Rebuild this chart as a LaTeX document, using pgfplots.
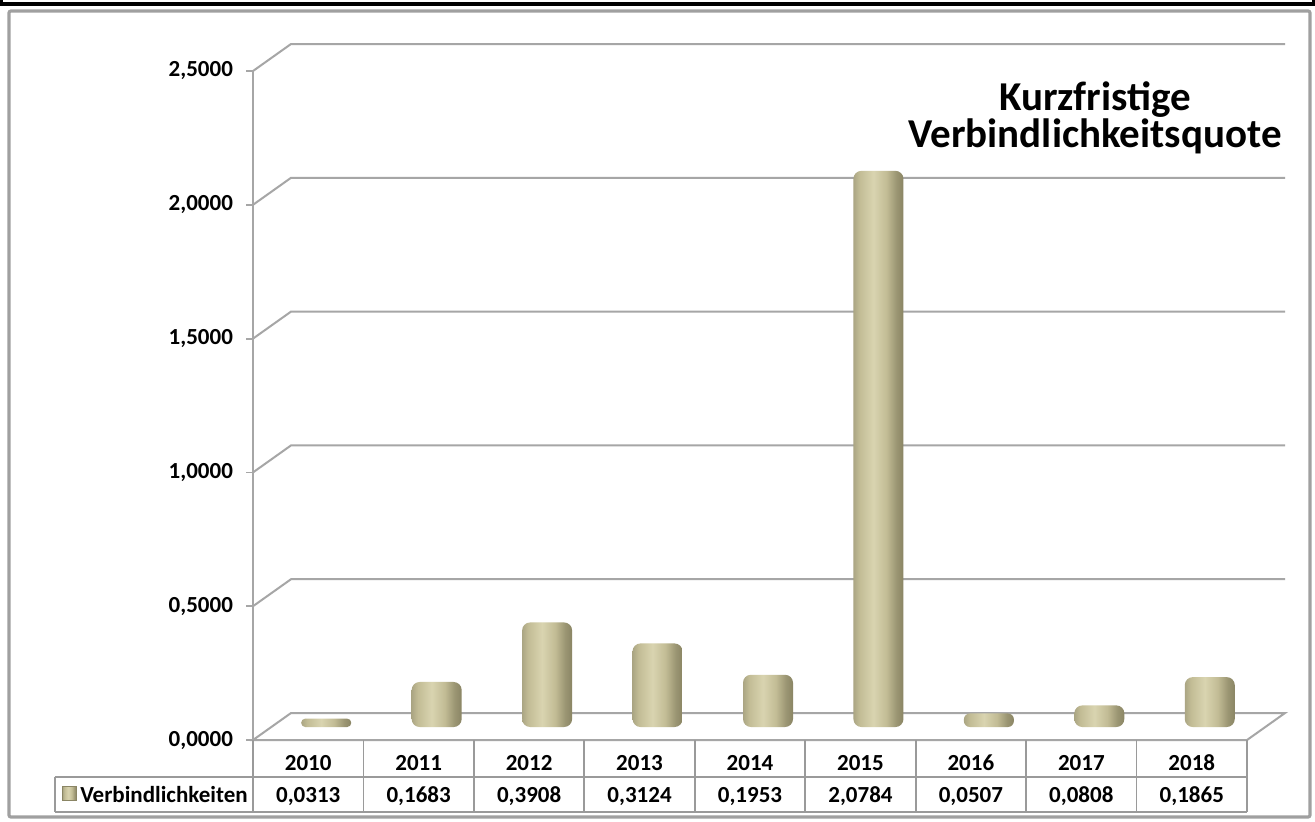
\documentclass[border=0pt]{standalone}
\usepackage{fontspec}
\setmainfont{Carlito}
\usepackage{pgfplots}
\pgfplotsset{compat=1.18}
\definecolor{gridc}{HTML}{A6A6A6}
\definecolor{barL}{HTML}{C2BC95}
\definecolor{barM}{HTML}{D9D4B0}
\definecolor{barR}{HTML}{8A8564}
\definecolor{tabc}{HTML}{9A9A9A}
\definecolor{framec}{HTML}{A0A0A0}
\pgfdeclarehorizontalshading{barshade}{100bp}{color(0bp)=(barL!88!black); color(25bp)=(barL!88!black); color(31bp)=(barL); color(45bp)=(barM); color(58bp)=(barL); color(68bp)=(barR!70!barL); color(75bp)=(barR); color(100bp)=(barR)}
\pgfplotsset{kbar/.style={ybar, bar width=25pt, draw=none, shading=barshade,
  rounded corners=4pt, xshift=9pt, yshift=6.5pt, forget plot}}
\begin{document}
\begin{tikzpicture}
\useasboundingbox (0,0) rectangle (657.5pt,-410.5pt);
\fill[white] (0,0) rectangle (657.5pt,-410.5pt);
% outer black frame (top)
\draw[black, line width=1.6pt] (0.8pt,0pt) -- (0.8pt,-2pt) -- (656.7pt,-2pt) -- (656.7pt,0pt);
% chart area frame
\draw[framec, line width=1.6pt, rounded corners=1pt] (4.5pt,-5.5pt) rectangle (655pt,-408.5pt);
\begin{axis}[
  at={(126.5pt,-370pt)}, anchor=south west,
  scale only axis, width=497pt, height=334.5pt,
  xmin=0, xmax=9, ymin=0, ymax=2.5,
  clip=false,
  axis line style={draw=none},
  xtick=\empty,
  ytick={0,0.5,1,1.5,2,2.5},
  ytick pos=left, tick align=outside,
  major tick length=3.5pt,
  tick style={gridc, line width=0.9pt},
  yticklabel style={font=\bfseries\fontsize{11.5}{13}\selectfont, text=black, xshift=-3pt},
  /pgf/number format/.cd, fixed, fixed zerofill, precision=4, use comma, assume math mode=true,
]
% back wall gridlines and floor
\draw[gridc, line width=1pt] (axis cs:0,0.5) -- (axis cs:0.3441,0.6009) -- (axis cs:9.3441,0.6009);
\draw[gridc, line width=1pt] (axis cs:0,1) -- (axis cs:0.3441,1.1009) -- (axis cs:9.3441,1.1009);
\draw[gridc, line width=1pt] (axis cs:0,1.5) -- (axis cs:0.3441,1.6009) -- (axis cs:9.3441,1.6009);
\draw[gridc, line width=1pt] (axis cs:0,2) -- (axis cs:0.3441,2.1009) -- (axis cs:9.3441,2.1009);
\draw[gridc, line width=1pt] (axis cs:0,2.5) -- (axis cs:0.3441,2.6009) -- (axis cs:9.3441,2.6009);
\draw[gridc, line width=1pt] (axis cs:0,0) -- (axis cs:0.3441,0.1009) -- (axis cs:9.3441,0.1009) -- (axis cs:9,0) -- cycle;
\draw[gridc, line width=1pt] (axis cs:0,0) -- (axis cs:0,2.5);
% bars (one plot per bar so that each bar is shaded on its own)
\addplot[kbar, rounded corners=2pt] coordinates {(0.5,0.0313)};
\addplot[kbar] coordinates {(1.5,0.1683)};
\addplot[kbar] coordinates {(2.5,0.3908)};
\addplot[kbar] coordinates {(3.5,0.3124)};
\addplot[kbar] coordinates {(4.5,0.1953)};
\addplot[kbar] coordinates {(5.5,2.0784)};
\addplot[kbar, rounded corners=3pt] coordinates {(6.5,0.0507)};
\addplot[kbar] coordinates {(7.5,0.0808)};
\addplot[kbar] coordinates {(8.5,0.1865)};
% data table
\draw[tabc, line width=0.9pt] (axis cs:-1.793,-0.1383) -- (axis cs:9,-0.1383);
\draw[tabc, line width=0.9pt] (axis cs:-1.793,-0.269) -- (axis cs:9,-0.269);
\draw[tabc, line width=0.9pt] (axis cs:-1.793,-0.1383) -- (axis cs:-1.793,-0.269);
\draw[tabc, line width=0.9pt] (axis cs:0,0) -- (axis cs:0,-0.269);
\draw[tabc, line width=0.9pt] (axis cs:1,0) -- (axis cs:1,-0.269);
\draw[tabc, line width=0.9pt] (axis cs:2,0) -- (axis cs:2,-0.269);
\draw[tabc, line width=0.9pt] (axis cs:3,0) -- (axis cs:3,-0.269);
\draw[tabc, line width=0.9pt] (axis cs:4,0) -- (axis cs:4,-0.269);
\draw[tabc, line width=0.9pt] (axis cs:5,0) -- (axis cs:5,-0.269);
\draw[tabc, line width=0.9pt] (axis cs:6,0) -- (axis cs:6,-0.269);
\draw[tabc, line width=0.9pt] (axis cs:7,0) -- (axis cs:7,-0.269);
\draw[tabc, line width=0.9pt] (axis cs:8,0) -- (axis cs:8,-0.269);
\draw[tabc, line width=0.9pt] (axis cs:9,0) -- (axis cs:9,-0.269);
\begin{scope}[every node/.style={font=\bfseries\fontsize{11.5}{13}\selectfont, inner sep=0pt, anchor=base}]
\node at (axis cs:0.5,-0.114) {2010};
\node at (axis cs:1.5,-0.114) {2011};
\node at (axis cs:2.5,-0.114) {2012};
\node at (axis cs:3.5,-0.114) {2013};
\node at (axis cs:4.5,-0.114) {2014};
\node at (axis cs:5.5,-0.114) {2015};
\node at (axis cs:6.5,-0.114) {2016};
\node at (axis cs:7.5,-0.114) {2017};
\node at (axis cs:8.5,-0.114) {2018};
\node at (axis cs:0.5,-0.2317) {0,0313};
\node at (axis cs:1.5,-0.2317) {0,1683};
\node at (axis cs:2.5,-0.2317) {0,3908};
\node at (axis cs:3.5,-0.2317) {0,3124};
\node at (axis cs:4.5,-0.2317) {0,1953};
\node at (axis cs:5.5,-0.2317) {2,0784};
\node at (axis cs:6.5,-0.2317) {0,0507};
\node at (axis cs:7.5,-0.2317) {0,0808};
\node at (axis cs:8.5,-0.2317) {0,1865};
\node[anchor=base east] at (axis cs:-0.045,-0.2317) {Verbindlichkeiten};
\end{scope}
\node[minimum size=7pt, inner sep=0pt, shading=barshade, draw=barR, line width=0.3pt] at (axis cs:-1.66,-0.2) {};
\end{axis}
\node[anchor=base, font=\bfseries\fontsize{20.5}{23}\selectfont] at (547.5pt,-55pt) {Kurzfristige};
\node[anchor=base, font=\bfseries\fontsize{20.5}{23}\selectfont] at (547.5pt,-73.5pt) {Verbindlichkeitsquote};
\end{tikzpicture}
\end{document}
